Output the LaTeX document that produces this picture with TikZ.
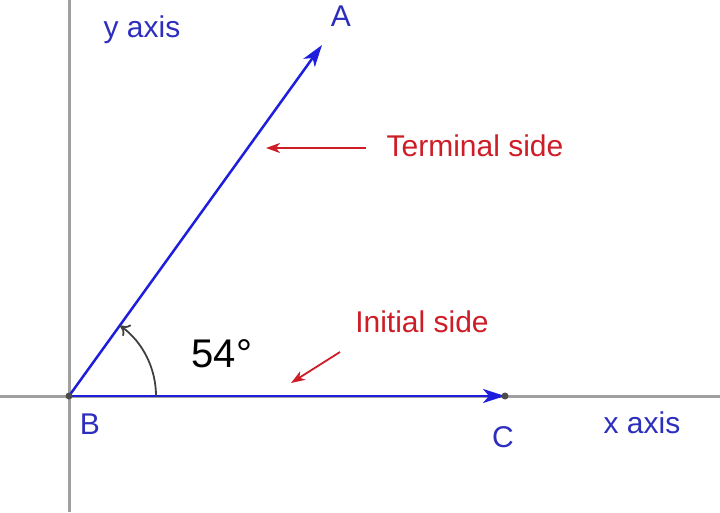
\documentclass[tikz,border=0pt]{standalone}
\usepackage{fontspec}
\setmainfont{Liberation Sans}
\usetikzlibrary{positioning,arrows.meta}
\definecolor{sideblue}{RGB}{30,30,220}
\definecolor{labelblue}{RGB}{45,45,190}
\definecolor{notered}{RGB}{205,30,40}
\definecolor{axisgray}{RGB}{160,160,160}

\begin{document}
\begin{tikzpicture}[x=1pt,y=1pt,>=stealth,thick,
    axis/.style={draw=axisgray,line width=3pt},
    side/.style={-{Stealth[length=22pt,width=14pt,inset=6pt]},draw=sideblue,line width=2.5pt},
    pointer/.style={-{Stealth[length=14pt,width=10pt,inset=4pt]},draw=notered,line width=1.8pt},
    point label/.style={text=labelblue,font=\fontsize{30}{32}\selectfont},
    note/.style={text=notered,font=\fontsize{30}{32}\selectfont}]
        \useasboundingbox (0,0) rectangle (720,512);
        \coordinate (B) at (69,116);
        \coordinate (A) at (322,467);
        \coordinate (C) at (505,116);
        \coordinate (ytop) at (69,512);
        \coordinate (ybot) at (69,0);
        \coordinate (xleft) at (0,116);
        \coordinate (xright) at (720,116);
        \coordinate (arcstart) at (156,116);
        \coordinate (tend) at (266,364);
        \coordinate (istart) at (340,160);
        \coordinate (iend) at (291,129);

        \draw[axis] (ybot) -- (ytop);
        \draw[axis] (xleft) -- (xright);
        \draw[side] (B) -- (A);
        \draw[side] (B) -- (C);
        \draw[-{To[length=9pt,width=14pt]},draw=black!75,line width=1.8pt] (arcstart) arc[start angle=0,end angle=54,radius=87];
        \fill[black!70] (B) circle (3.5) (C) circle (3.5);

        \node[point label] (Alabel) at (341,496) {A};
        \node[point label] (Blabel) at (90,88) {B};
        \node[point label] (Clabel) at (503,75) {C};
        \node[point label] (xlabel) at (642,89) {x axis};
        \node[point label] (ylabel) at (142,482) {y axis};
        \node[font=\fontsize{40}{44}\selectfont] (angle) at (222,158) {54°};
        \node[note] (term) at (475,366) {Terminal side};
        \node[note] (init) at (422,190) {Initial side};

        \draw[pointer] (366,364) -- (tend);
        \draw[pointer] (istart) -- (iend);
\end{tikzpicture}
\end{document}
